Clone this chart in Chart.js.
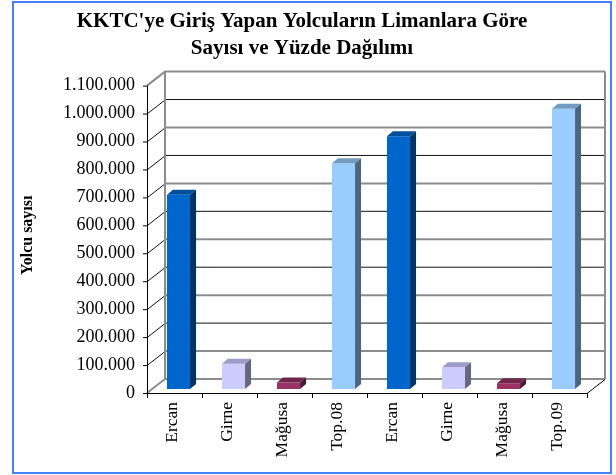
<!DOCTYPE html>
<html>
<head>
<meta charset="utf-8">
<script src="https://cdn.jsdelivr.net/npm/chart.js@4.4.1/dist/chart.umd.min.js"></script>
<style>
  html, body { margin: 0; padding: 0; background: #ffffff; }
  canvas { display: block; }
</style>
</head>
<body>
<canvas id="portChart" width="616" height="475"></canvas>
<script>
var categories = ["Ercan", "Girne", "Mağusa", "Top.08", "Ercan", "Girne", "Mağusa", "Top.09"];
var passengers = [695000, 90000, 23000, 808000, 904000, 78000, 21000, 1003000];
var yTicks = [0, 100000, 200000, 300000, 400000, 500000, 600000, 700000, 800000, 900000, 1000000, 1100000];
var titleLines = ["KKTC'ye Giriş Yapan Yolcuların Limanlara Göre", "Sayısı ve Yüzde Dağılımı"];
var yTitle = "Yolcu sayısı";

// front / top / side colours per port
var faceColors = {
  "Ercan": ["#0066cc", "#004e9e", "#003366"],
  "Girne": ["#ccccff", "#9d9dcc", "#666680"],
  "Mağusa": ["#993366", "#73264c", "#4d1a33"],
  "Top": ["#99ccff", "#739cc2", "#4d6680"]
};
function colorsFor(name) {
  return faceColors[name.indexOf("Top") === 0 ? "Top" : name];
}

var serif = "'Liberation Serif', 'Times New Roman', serif";
var FRONT = { dx: -4, dy: 4 };
var BACK = { dx: 14, dy: -10 };
var BAR_DEPTH = { dx: 6, dy: 5 };

function line(ctx, x1, y1, x2, y2, color, width) {
  ctx.beginPath();
  ctx.strokeStyle = color;
  ctx.lineWidth = width;
  ctx.moveTo(x1, y1);
  ctx.lineTo(x2, y2);
  ctx.stroke();
}

var box3d = {
  id: "box3d",
  beforeDraw: function (chart) {
    var ctx = chart.ctx;
    ctx.save();
    ctx.fillStyle = "#ffffff";
    ctx.fillRect(0, 0, chart.width, chart.height);
    ctx.strokeStyle = "#4a7ef5";
    ctx.lineWidth = 2;
    ctx.strokeRect(13, 2, 598, 471);
    ctx.restore();
  },
  beforeDatasetsDraw: function (chart) {
    var ctx = chart.ctx;
    var area = chart.chartArea;
    var ys = chart.scales.y;
    var xs = chart.scales.x;
    var gray = "#8c8c8c";
    var fl = area.left + FRONT.dx, fr = area.right + FRONT.dx;
    var bl = area.left + BACK.dx, br = area.right + BACK.dx;
    ctx.save();
    ctx.lineCap = "butt";
    yTicks.forEach(function (v, i) {
      var py = ys.getPixelForValue(v);
      var odd = i % 2 === 1;
      var last = i === yTicks.length - 1;
      var backY = py + BACK.dy;
      var frontY = py + FRONT.dy;
      if (i === 0) {
        line(ctx, bl, backY, br, backY, gray, 2);
      } else {
        line(ctx, bl, backY, br, backY, odd ? gray : "#111111", odd ? 2 : 1);
      }
      // left wall diagonal
      if (i === 0 || last) {
        line(ctx, fl, frontY, bl, backY, gray, 2);
      } else {
        line(ctx, fl, frontY + 0.5, bl, backY + 0.5, "#111111", 1);
      }
      // tick mark on front axis
      line(ctx, fl - 4, frontY + 0.5, fl, frontY + 0.5, "#000000", 1);
    });
    var topY = ys.getPixelForValue(yTicks[yTicks.length - 1]);
    var zeroY = ys.getPixelForValue(0);
    // back wall edges
    line(ctx, bl, topY + BACK.dy, bl, zeroY + BACK.dy, gray, 2);
    line(ctx, br, topY + BACK.dy, br, zeroY + BACK.dy, gray, 2);
    // front axis and floor
    line(ctx, fl + 0.5, topY + FRONT.dy, fl + 0.5, zeroY + FRONT.dy, "#000000", 1);
    line(ctx, fl, zeroY + FRONT.dy + 0.5, fr, zeroY + FRONT.dy + 0.5, "#000000", 1);
    line(ctx, fr, zeroY + FRONT.dy + 0.5, br, zeroY + BACK.dy + 0.5, "#000000", 1);
    for (var i = 0; i <= categories.length; i++) {
      var px = Math.round(xs.getPixelForValue(i - 0.5) + FRONT.dx) + 0.5;
      line(ctx, px, zeroY + FRONT.dy, px, zeroY + FRONT.dy + 5, "#000000", 1);
    }
    ctx.restore();
  },
  afterDatasetsDraw: function (chart) {
    var ctx = chart.ctx;
    var meta = chart.getDatasetMeta(0);
    ctx.save();
    meta.data.forEach(function (bar, i) {
      var c = colorsFor(categories[i]);
      var half = bar.width / 2;
      var l = bar.x - half, r = bar.x + half;
      var t = bar.y, b = bar.base;
      ctx.fillStyle = c[1];
      ctx.beginPath();
      ctx.moveTo(l, t);
      ctx.lineTo(l + BAR_DEPTH.dx, t - BAR_DEPTH.dy);
      ctx.lineTo(r + BAR_DEPTH.dx, t - BAR_DEPTH.dy);
      ctx.lineTo(r, t);
      ctx.closePath();
      ctx.fill();
      ctx.fillStyle = c[2];
      ctx.beginPath();
      ctx.moveTo(r, t);
      ctx.lineTo(r + BAR_DEPTH.dx, t - BAR_DEPTH.dy);
      ctx.lineTo(r + BAR_DEPTH.dx, b - BAR_DEPTH.dy);
      ctx.lineTo(r, b);
      ctx.closePath();
      ctx.fill();
    });
    ctx.restore();
  }
};

var ctx = document.getElementById("portChart").getContext("2d");
var portChart = new Chart(ctx, {
  type: "bar",
  data: {
    labels: categories,
    datasets: [
      {
        label: yTitle,
        data: passengers,
        backgroundColor: categories.map(function (name) { return colorsFor(name)[0]; }),
        borderWidth: 0,
        barPercentage: 0.42,
        categoryPercentage: 1
      }
    ]
  },
  options: {
    responsive: false,
    animation: false,
    devicePixelRatio: 1,
    layout: { padding: { left: 13, right: 25, top: 0, bottom: 0 } },
    plugins: {
      legend: { display: false },
      tooltip: { enabled: false },
      title: {
        display: true,
        text: titleLines,
        color: "#000000",
        font: { family: serif, size: 21, weight: "bold", lineHeight: 1.3 },
        padding: { top: 8, bottom: 19 }
      }
    },
    scales: {
      x: {
        grid: { display: false, drawTicks: false },
        border: { display: false },
        ticks: {
          autoSkip: false,
          minRotation: 90,
          maxRotation: 90,
          padding: 13,
          labelOffset: -6,
          color: "#000000",
          font: { family: serif, size: 17.5 }
        },
        afterFit: function (scale) { scale.height = 86; }
      },
      y: {
        min: 0,
        max: 1100000,
        grid: { display: false, drawTicks: false },
        border: { display: false },
        ticks: {
          stepSize: 100000,
          padding: 16,
          labelOffset: 4,
          color: "#000000",
          font: { family: serif, size: 18 },
          callback: function (v) {
            return String(v).replace(/\B(?=(\d{3})+(?!\d))/g, ".");
          }
        },
        title: {
          display: true,
          text: yTitle,
          color: "#000000",
          font: { family: serif, size: 16, weight: "bold", lineHeight: 1.2 },
          padding: { top: 5, bottom: 0 }
        },
        afterFit: function (scale) { scale.width = 138; }
      }
    }
  },
  plugins: [box3d]
});
</script>
</body>
</html>
